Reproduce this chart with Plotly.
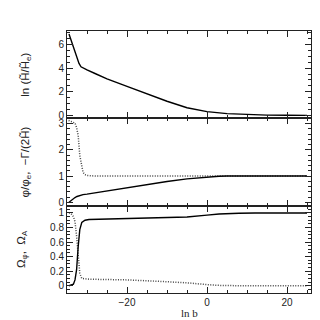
import plotly.graph_objects as go
from plotly.subplots import make_subplots

# ---- data (x = ln b) ----
x_lnh = [-34.5, -34.0, -33.5, -33.0, -32.5, -32.0, -31.5, -31.0, -30.0, -28.0,
         -25.0, -20.0, -15.0, -10.0, -5.0, 0.0, 5.0, 10.0, 15.0, 20.0, 25.0]
lnh = [6.9, 6.4, 5.9, 5.4, 4.9, 4.4, 4.12, 4.02, 3.85, 3.55,
       3.1, 2.45, 1.82, 1.2, 0.65, 0.32, 0.15, 0.06, 0.02, 0.01, 0.0]

x_phi = [-34.5, -34.0, -33.5, -33.0, -32.5, -32.0, -31.5, -31.0, -30.0, -25.0,
         -20.0, -15.0, -10.0, -5.0, 0.0, 3.0, 5.0, 10.0, 25.0]
phi = [0.0, 0.07, 0.13, 0.18, 0.22, 0.25, 0.27, 0.29, 0.31, 0.43,
       0.56, 0.68, 0.79, 0.89, 0.96, 0.99, 1.0, 1.0, 1.0]

x_gam = [-34.6, -34.0, -33.5, -33.0, -32.6, -32.2, -31.8, -31.4, -31.0, -30.6,
         -30.0, -28.0, 25.0]
gam = [3.12, 3.08, 3.05, 3.02, 2.85, 2.54, 1.78, 1.39, 1.15, 1.06, 1.02, 1.0, 1.0]

x_om = [-34.5, -34.0, -33.4, -33.0, -32.6, -32.2, -31.8, -31.3, -30.5, -29.5,
        -25.0, -20.0, -12.0, -5.0, 0.0, 3.0, 8.0, 12.0, 25.0]
om_phi = [0.0, 0.005, 0.02, 0.08, 0.22, 0.54, 0.77, 0.87, 0.90, 0.91,
          0.915, 0.92, 0.93, 0.945, 0.97, 0.985, 0.995, 1.0, 1.0]
om_a = [1.0, 0.995, 0.95, 0.88, 0.68, 0.35, 0.17, 0.10, 0.092, 0.09,
        0.085, 0.08, 0.06, 0.04, 0.015, 0.005, 0.0, 0.0, 0.0]

FONT = "Liberation Sans"
INK = "#222222"
solid = dict(color="black", width=1.4)
dotted = dict(color="#444444", width=1.5, dash="1px,1.5px")

fig = make_subplots(rows=3, cols=1, shared_xaxes=True, vertical_spacing=0)

fig.add_trace(go.Scatter(x=x_lnh, y=lnh, mode="lines", line=solid), row=1, col=1)
fig.add_trace(go.Scatter(x=x_gam, y=gam, mode="lines", line=dotted), row=2, col=1)
fig.add_trace(go.Scatter(x=x_phi, y=phi, mode="lines", line=solid), row=2, col=1)
fig.add_trace(go.Scatter(x=x_om, y=om_a, mode="lines", line=dotted), row=3, col=1)
fig.add_trace(go.Scatter(x=x_om, y=om_phi, mode="lines", line=solid), row=3, col=1)

axis_common = dict(
    showgrid=False, zeroline=False, showline=True, linecolor=INK, linewidth=1,
    mirror="allticks", ticks="inside", ticklen=6, tickcolor=INK, tickwidth=1,
    tickfont=dict(family=FONT, size=10, color=INK),
)
minor_common = dict(ticks="inside", ticklen=3, tickcolor=INK, tickwidth=1, showgrid=False)
title_font = dict(family=FONT, size=11.5, color=INK)

for r in (1, 2, 3):
    fig.update_xaxes(range=[-35, 26], dtick=20, tick0=0,
                     minor=dict(dtick=5, **minor_common),
                     showticklabels=(r == 3), row=r, col=1, **axis_common)

fig.update_yaxes(range=[-0.25, 7.15], dtick=2,
                 minor=dict(dtick=0.5, **minor_common),
                 title=dict(text="ln (H̃/H̃<sub>e</sub>)", standoff=26, font=title_font),
                 row=1, col=1, **axis_common)
fig.update_yaxes(range=[-0.13, 3.2], dtick=1,
                 minor=dict(dtick=0.2, **minor_common),
                 title=dict(text="φ/φ<sub>e</sub>,  −Γ/(2H̃)", standoff=26, font=title_font),
                 row=2, col=1, **axis_common)
fig.update_yaxes(range=[-0.1, 1.1], dtick=0.2,
                 minor=dict(dtick=0.05, **minor_common),
                 title=dict(text="Ω<sub>φ</sub>,  Ω<sub>A</sub>", standoff=22, font=title_font),
                 row=3, col=1, **axis_common)

fig.update_layout(
    width=320, height=320,
    margin=dict(l=44, r=17, t=23, b=35),
    showlegend=False,
    paper_bgcolor="white", plot_bgcolor="white",
    annotations=[dict(text="ln b", xref="paper", yref="paper", x=0.5, y=-0.076,
                      xanchor="center", yanchor="middle", showarrow=False,
                      font=dict(family="Liberation Serif", size=11, color=INK))],
)

fig.write_html("out.html")
